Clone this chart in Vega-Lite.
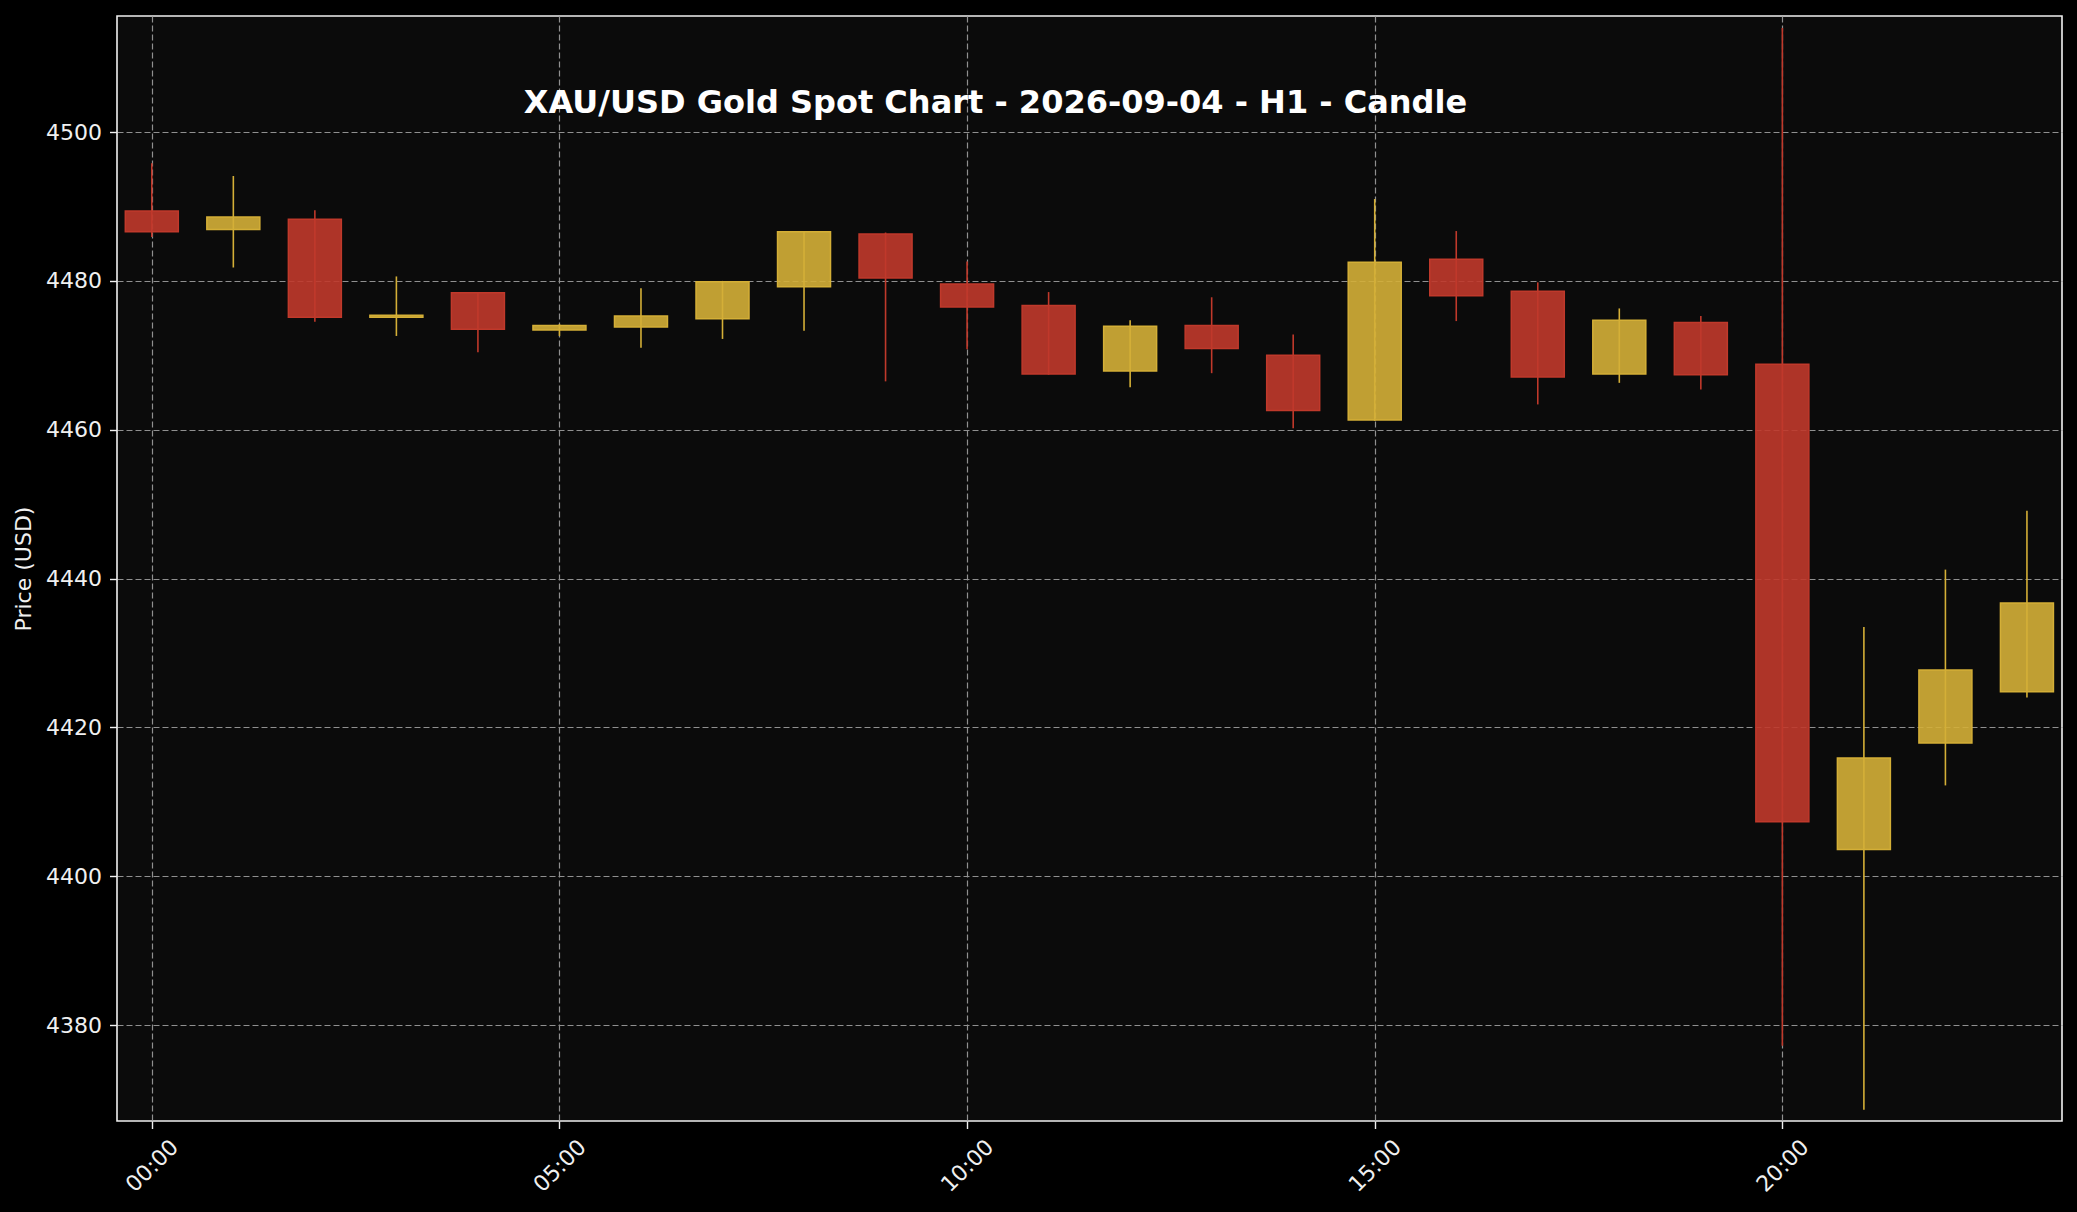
{
  "$schema": "https://vega.github.io/schema/vega-lite/v6.json",
  "width": 1945,
  "height": 1105,
  "autosize": {"type": "none"},
  "padding": {"left": 117, "top": 16, "right": 15, "bottom": 91},
  "background": "#000000",
  "config": {
    "font": "DejaVu Sans",
    "view": {"fill": "#0b0b0b", "stroke": "#f0f0f0", "strokeWidth": 1.6},
    "axis": {
      "domain": false,
      "grid": true,
      "gridColor": "#909090",
      "gridDash": [6, 3],
      "gridWidth": 1.2,
      "tickColor": "#f0f0f0",
      "tickSize": 7.5,
      "tickWidth": 1.4,
      "labelColor": "#f0f0f0",
      "labelFont": "DejaVu Sans",
      "labelFontSize": 22,
      "labelOverlap": false,
      "labelFlush": false,
      "titleColor": "#f0f0f0",
      "titleFont": "DejaVu Sans",
      "titleFontSize": 22,
      "titleFontWeight": "normal"
    }
  },
  "title": {
    "text": "XAU/USD Gold Spot Chart - 2026-09-04 - H1 - Candle",
    "font": "DejaVu Sans",
    "fontSize": 32,
    "fontWeight": "bold",
    "color": "#ffffff",
    "anchor": "middle",
    "dx": -94,
    "offset": -129,
    "baseline": "alphabetic"
  },
  "data": {
    "values": [
      {"time": "2026-09-04T00:00:00", "open": 4489.4, "high": 4495.8, "low": 4485.9, "close": 4486.6},
      {"time": "2026-09-04T01:00:00", "open": 4486.9, "high": 4494.1, "low": 4481.8, "close": 4488.6},
      {"time": "2026-09-04T02:00:00", "open": 4488.3, "high": 4489.5, "low": 4474.5, "close": 4475.1},
      {"time": "2026-09-04T03:00:00", "open": 4475.1, "high": 4480.6, "low": 4472.6, "close": 4475.4},
      {"time": "2026-09-04T04:00:00", "open": 4478.4, "high": 4478.5, "low": 4470.4, "close": 4473.5},
      {"time": "2026-09-04T05:00:00", "open": 4473.4, "high": 4474.2, "low": 4472.6, "close": 4474.0},
      {"time": "2026-09-04T06:00:00", "open": 4473.8, "high": 4479.0, "low": 4471.0, "close": 4475.3},
      {"time": "2026-09-04T07:00:00", "open": 4474.9, "high": 4480.0, "low": 4472.2, "close": 4479.9},
      {"time": "2026-09-04T08:00:00", "open": 4479.2, "high": 4486.7, "low": 4473.3, "close": 4486.6},
      {"time": "2026-09-04T09:00:00", "open": 4486.3, "high": 4486.5, "low": 4466.5, "close": 4480.4},
      {"time": "2026-09-04T10:00:00", "open": 4479.6, "high": 4482.6, "low": 4470.8, "close": 4476.5},
      {"time": "2026-09-04T11:00:00", "open": 4476.7, "high": 4478.5, "low": 4467.4, "close": 4467.5},
      {"time": "2026-09-04T12:00:00", "open": 4467.9, "high": 4474.7, "low": 4465.7, "close": 4473.9},
      {"time": "2026-09-04T13:00:00", "open": 4474.0, "high": 4477.8, "low": 4467.6, "close": 4470.9},
      {"time": "2026-09-04T14:00:00", "open": 4470.0, "high": 4472.8, "low": 4460.2, "close": 4462.6},
      {"time": "2026-09-04T15:00:00", "open": 4461.3, "high": 4491.0, "low": 4461.2, "close": 4482.5},
      {"time": "2026-09-04T16:00:00", "open": 4482.9, "high": 4486.7, "low": 4474.6, "close": 4478.0},
      {"time": "2026-09-04T17:00:00", "open": 4478.6, "high": 4479.8, "low": 4463.4, "close": 4467.1},
      {"time": "2026-09-04T18:00:00", "open": 4467.5, "high": 4476.3, "low": 4466.3, "close": 4474.7},
      {"time": "2026-09-04T19:00:00", "open": 4474.4, "high": 4475.3, "low": 4465.4, "close": 4467.4},
      {"time": "2026-09-04T20:00:00", "open": 4468.8, "high": 4514.0, "low": 4377.2, "close": 4407.3},
      {"time": "2026-09-04T21:00:00", "open": 4403.6, "high": 4433.5, "low": 4368.6, "close": 4415.9},
      {"time": "2026-09-04T22:00:00", "open": 4417.9, "high": 4441.2, "low": 4412.2, "close": 4427.7},
      {"time": "2026-09-04T23:00:00", "open": 4424.8, "high": 4449.1, "low": 4424.0, "close": 4436.7}
    ]
  },
  "encoding": {
    "x": {
      "field": "time",
      "type": "temporal",
      "scale": {
        "nice": false,
        "padding": 0,
        "domain": [
          {"year": 2026, "month": 9, "date": 3, "hours": 23, "minutes": 34, "seconds": 23},
          {"year": 2026, "month": 9, "date": 4, "hours": 23, "minutes": 25, "seconds": 48}
        ]
      },
      "axis": {
        "title": null,
        "format": "%H:%M",
        "values": [
          {"year": 2026, "month": 9, "date": 4, "hours": 0},
          {"year": 2026, "month": 9, "date": 4, "hours": 5},
          {"year": 2026, "month": 9, "date": 4, "hours": 10},
          {"year": 2026, "month": 9, "date": 4, "hours": 15},
          {"year": 2026, "month": 9, "date": 4, "hours": 20}
        ],
        "labelAngle": -45,
        "labelAlign": "center",
        "labelBaseline": "middle",
        "labelPadding": 37
      }
    }
  },
  "layer": [
    {
      "mark": {"type": "rule", "strokeWidth": 1.6},
      "encoding": {
        "y": {
          "field": "low",
          "type": "quantitative",
          "scale": {"domain": [4367.1, 4515.6], "nice": false, "zero": false, "padding": 0},
          "axis": {
            "title": "Price (USD)",
            "values": [4380, 4400, 4420, 4440, 4460, 4480, 4500],
            "format": "d",
            "labelPadding": 8,
            "titlePadding": 10
          }
        },
        "y2": {"field": "high"},
        "color": {"condition": {"test": "datum.open < datum.close", "value": "#D4AF37"}, "value": "#C0392B"}
      }
    },
    {
      "mark": {"type": "bar", "size": 53, "strokeWidth": 1.5, "fillOpacity": 0.9, "strokeOpacity": 1},
      "encoding": {
        "y": {"field": "open", "type": "quantitative"},
        "y2": {"field": "close"},
        "color": {"condition": {"test": "datum.open < datum.close", "value": "#D4AF37"}, "value": "#C0392B"},
        "stroke": {"condition": {"test": "datum.open < datum.close", "value": "#D4AF37"}, "value": "#C0392B"}
      }
    }
  ]
}
